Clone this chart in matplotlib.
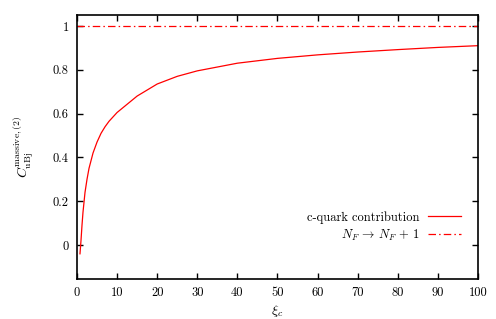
import matplotlib
matplotlib.use("Agg")
import matplotlib.pyplot as plt

plt.rcParams["font.family"] = "serif"
plt.rcParams["font.serif"] = ["cmr10", "DejaVu Serif"]
plt.rcParams["mathtext.fontset"] = "cm"
plt.rcParams["axes.unicode_minus"] = False

# curva
xi = [0.75, 1.0, 1.25, 1.5, 2, 2.5, 3, 4, 5, 6, 7, 8, 10, 12, 15, 20,
      25, 30, 40, 50, 60, 70, 80, 90, 100]
c_quark = [-0.04, 0.02, 0.09, 0.15, 0.24, 0.30, 0.35, 0.42, 0.47, 0.51,
           0.54, 0.565, 0.605, 0.635, 0.68, 0.735, 0.77, 0.795, 0.83,
           0.852, 0.868, 0.881, 0.892, 0.902, 0.91]
nf_x = [0, 100]
nf_y = [1, 1]

x_ticks = [0, 10, 20, 30, 40, 50, 60, 70, 80, 90, 100]
y_ticks = [0, 0.2, 0.4, 0.6, 0.8, 1]
y_tick_labels = ["0", "0.2", "0.4", "0.6", "0.8", "1"]

fig = plt.figure(figsize=(4.96, 3.19), dpi=100)
ax = fig.add_axes([0.1552, 0.1254, 0.8085, 0.8276])

ax.plot(xi, c_quark, color="red", linewidth=0.9, label="c-quark contribution")
ax.plot(nf_x, nf_y, color="red", linewidth=0.9, linestyle=(0, (6, 2.5, 1.2, 2.5)),
        label=r"$N_F \,\rightarrow\, N_F \,+\, 1$")

ax.set_xlim(0, 100)
ax.set_ylim(-0.155, 1.05)
ax.set_xticks(x_ticks)
ax.set_xticklabels([str(t) for t in x_ticks])
ax.set_yticks(y_ticks)
ax.set_yticklabels(y_tick_labels)
ax.tick_params(direction="in", length=4.5, width=1, top=True, right=True,
               labelsize=9, pad=6)
for s in ax.spines.values():
    s.set_linewidth(1.2)

ax.set_xlabel(r"$\xi_c$", fontsize=10, labelpad=2.5)
ax.set_ylabel(r"$C_{\rm uBj}^{\rm massive,(2)}$", fontsize=10, labelpad=12)

ax.legend(loc="lower right", bbox_to_anchor=(0.985, 0.095), frameon=False,
          markerfirst=False, fontsize=9, handlelength=2.6, labelspacing=0.3,
          handletextpad=0.7)

plt.savefig("out.png", dpi=100)
